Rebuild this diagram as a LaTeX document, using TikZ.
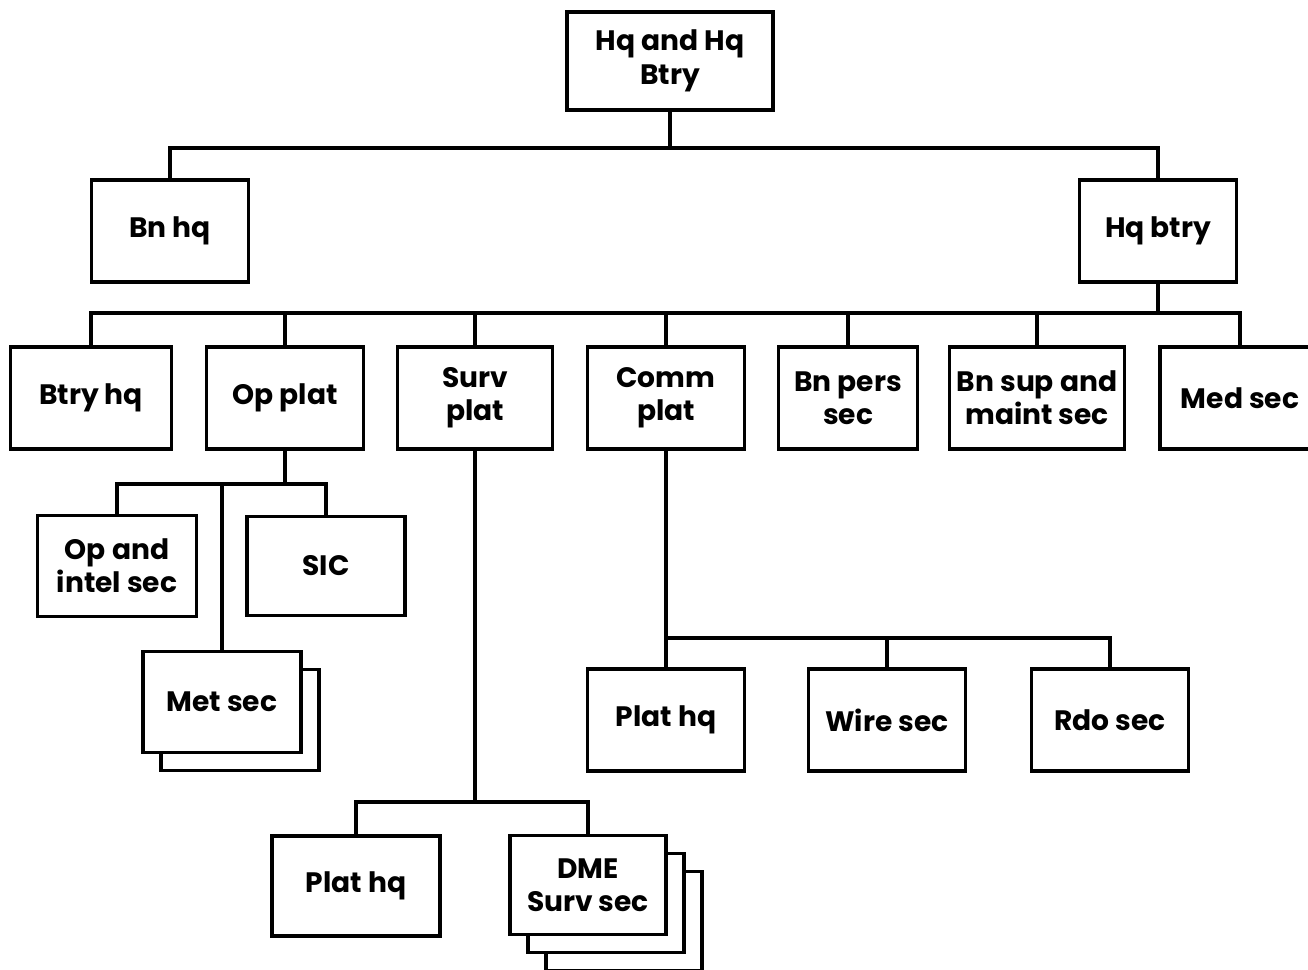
\documentclass[tikz,border=0pt]{standalone}
\usepackage{fontspec}
\setmainfont{Poppins}
\usetikzlibrary{shadows}

\tikzset{
  unit/.style={draw, line width=2.2pt, fill=white, align=center,
    minimum width=3.14cm, minimum height=2.04cm, inner sep=2pt,
    font=\fontsize{16}{19}\selectfont\bfseries},
  stack/.style={copy shadow={shadow xshift=0.36cm, shadow yshift=-0.36cm, line width=2.2pt}},
  stackk/.style={copy shadow={shadow xshift=0.72cm, shadow yshift=-0.72cm, line width=2.2pt},
    copy shadow={shadow xshift=0.36cm, shadow yshift=-0.36cm, line width=2.2pt}},
  link/.style={line width=2.2pt}
}

\begin{document}
\begin{tikzpicture}[x=0.02cm, y=-0.02cm]
\useasboundingbox (0,0) rectangle (1308,970);
% define the units
  \node[unit, minimum width=4.12cm, minimum height=1.96cm] (hqhq)  at (670,61)  {Hq and Hq\\Btry};
  \node[unit]                          (bnhq)    at (170,231)  {Bn hq};
  \node[unit]                          (hqbtry)  at (1158,231) {Hq btry};

  \node[unit, minimum width=3.22cm]    (btryhq)  at (91,398)   {Btry hq};
  \node[unit]                          (opplat)  at (285,398)  {Op plat};
  \node[unit, minimum width=3.10cm]    (survplat) at (475,398) {Surv\\plat};
  \node[unit]                          (commplat) at (666,398) {Comm\\plat};
  \node[unit, minimum width=2.78cm]    (perssec) at (848,398)  {Bn pers\\sec};
  \node[unit, minimum width=3.50cm]    (supsec)  at (1037,398) {Bn sup and\\maint sec};
  \node[unit, minimum width=3.20cm]    (medsec)  at (1240,398) {Med sec};

  \node[unit, minimum width=3.18cm, minimum height=2.02cm] (opintel) at (117,566) {Op and\\intel sec};
  \node[unit, minimum width=3.16cm, minimum height=1.98cm] (sic)     at (326,566) {SIC};
  \node[unit, stack, minimum width=3.16cm, minimum height=2.02cm] (metsec) at (222,702) {Met sec};

  \node[unit, minimum width=3.36cm, minimum height=2.00cm] (survhq) at (356,886) {Plat hq};
  \node[unit, stackk, minimum width=3.12cm, minimum height=1.98cm] (dme) at (588,885) {DME\\Surv sec};

  \node[unit]                          (commhq)  at (666,720)  {Plat hq};
  \node[unit]                          (wiresec) at (887,720)  {Wire sec};
  \node[unit]                          (rdosec)  at (1110,720) {Rdo sec};

% define the links
  \coordinate (j1) at (670,148);
  \coordinate (j2) at (1158,313);
  \coordinate (j3) at (285,484);
  \coordinate (j4) at (475,802);
  \coordinate (j5) at (666,638);

  \draw[link] (hqhq.south) -- (j1);
  \draw[link] (bnhq.north) |- (j1) -| (hqbtry.north);

  \draw[link] (hqbtry.south) -- (j2);
  \foreach \n in {btryhq, opplat, survplat, commplat, perssec, supsec, medsec}
    \draw[link] (j2) -| (\n.north);

  \draw[link] (opplat.south) -- (j3);
  \foreach \n in {opintel, sic, metsec}
    \draw[link] (j3) -| (\n.north);

  \draw[link] (survplat.south) -- (j4);
  \foreach \n in {survhq, dme}
    \draw[link] (j4) -| (\n.north);

  \draw[link] (commplat.south) -- (j5);
  \foreach \n in {commhq, wiresec, rdosec}
    \draw[link] (j5) -| (\n.north);
\end{tikzpicture}
\end{document}
